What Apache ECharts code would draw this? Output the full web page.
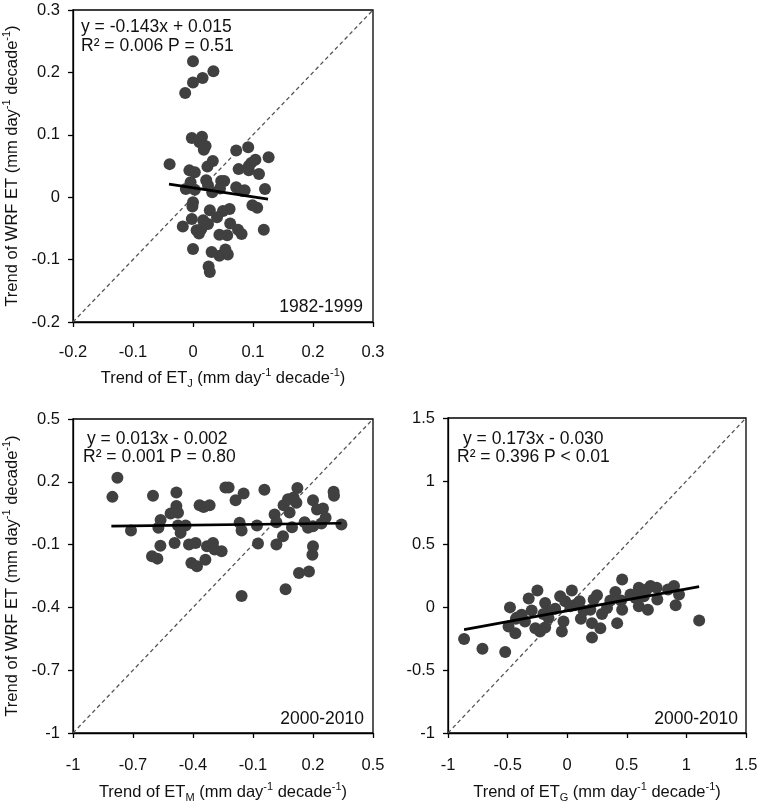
<!DOCTYPE html>
<html>
<head>
<meta charset="utf-8">
<script src="https://cdn.jsdelivr.net/npm/echarts@6/dist/echarts.min.js"></script>
<style>html,body{margin:0;padding:0;background:#fff}#c{width:763px;height:805px}</style>
</head>
<body>
<div id="c"></div>
<script>
// ---------- Panel 1: 1982-1999, ET_J vs WRF ET ----------
const p1X = [0.000,0.034,0.016,0.000,-0.013,-0.002,0.015,0.011,0.021,0.018,0.072,0.092,0.126,-0.039,0.033,0.024,0.097,0.104,0.093,0.076,0.093,0.110,-0.006,0.003,-0.004,0.022,0.047,0.052,-0.012,0.003,0.025,0.032,0.072,0.083,0.120,0.000,-0.001,0.099,0.107,0.028,0.050,0.061,-0.002,0.017,0.040,-0.017,0.006,0.014,0.025,0.062,0.075,0.081,0.118,0.044,0.057,0.000,0.031,0.044,0.054,0.058,0.026,0.028,0.010,0.045,0.086];
const p1Y = [0.218,0.202,0.191,0.184,0.167,0.095,0.097,0.088,0.082,0.076,0.075,0.080,0.064,0.053,0.058,0.049,0.055,0.060,0.050,0.045,0.043,0.037,0.043,0.040,0.024,0.027,0.026,0.026,0.013,0.012,0.019,0.008,0.016,0.010,0.013,-0.008,-0.015,-0.013,-0.017,-0.021,-0.022,-0.019,-0.035,-0.037,-0.032,-0.047,-0.053,-0.051,-0.043,-0.042,-0.052,-0.059,-0.052,-0.060,-0.061,-0.083,-0.088,-0.094,-0.084,-0.092,-0.111,-0.120,-0.058,0.014,0.011];
const p1FitX = [-0.040, 0.125];
const p1FitY = [0.021, -0.003];
const p1Range = [-0.2, 0.3];
const p1XTicks = [-0.2,-0.1,0,0.1,0.2,0.3];
const p1YTicks = [-0.2,-0.1,0,0.1,0.2,0.3];

// ---------- Panel 2: 2000-2010, ET_M vs WRF ET ----------
const p2X = [-0.778,-0.803,-0.600,-0.483,-0.710,-0.562,-0.573,-0.563,-0.605,-0.578,-0.512,-0.483,-0.475,-0.475,-0.437,-0.462,-0.492,-0.420,-0.387,-0.408,-0.380,-0.338,-0.367,-0.347,-0.317,-0.330,-0.300,-0.292,-0.257,-0.238,-0.222,-0.187,-0.147,-0.167,-0.157,-0.043,-0.080,-0.075,-0.157,0.008,0.017,0.017,0.050,0.053,0.075,0.083,0.095,0.103,0.122,0.117,0.063,0.130,0.180,0.158,0.175,0.200,0.200,0.200,0.197,0.220,0.250,0.263,0.242,0.303,0.305,0.342];
const p2Y = [0.219,0.128,0.133,0.149,-0.033,0.017,-0.020,-0.105,-0.156,-0.167,0.049,0.084,0.052,-0.009,-0.009,-0.044,-0.092,-0.100,-0.092,-0.188,-0.204,-0.172,0.088,0.080,0.088,-0.108,-0.092,-0.124,-0.132,0.173,0.173,0.112,0.144,0.004,-0.033,0.162,-0.009,-0.095,-0.345,0.044,0.007,-0.100,-0.060,0.088,0.117,0.053,-0.017,0.125,0.170,0.100,-0.313,-0.236,-0.228,0.007,-0.020,-0.012,0.112,-0.108,-0.148,0.068,0.072,0.028,0.001,0.152,0.133,-0.004];
const p2FitX = [-0.808, 0.342];
const p2FitY = [-0.012, 0.002];
const p2Range = [-1, 0.5];
const p2XTicks = [-1,-0.7,-0.4,-0.1,0.2,0.5];
const p2YTicks = [-1,-0.7,-0.4,-0.1,0.2,0.5];

// ---------- Panel 3: 2000-2010, ET_G vs WRF ET ----------
const p3X = [-0.865,-0.711,-0.520,-0.480,-0.492,-0.435,-0.430,-0.382,-0.354,-0.323,-0.298,-0.250,-0.267,-0.228,-0.185,-0.185,-0.200,-0.157,-0.101,-0.059,-0.031,-0.045,-0.017,0.039,0.059,0.025,0.115,0.194,0.208,0.208,0.222,0.250,0.278,0.292,0.334,0.404,0.461,0.419,0.452,0.461,0.531,0.573,0.601,0.601,0.643,0.666,0.677,0.699,0.750,0.756,0.846,0.896,0.910,0.938,1.107,-0.420,0.104,0.138,0.362,-0.157];
const p3Y = [-0.254,-0.332,-0.358,-0.003,-0.155,-0.209,-0.094,-0.061,-0.115,0.067,-0.027,0.131,-0.168,-0.195,-0.163,0.032,-0.056,-0.035,-0.013,0.086,-0.115,-0.195,0.045,0.131,0.013,0.005,-0.094,-0.021,-0.128,-0.243,0.059,0.094,-0.168,-0.056,-0.008,0.120,0.219,-0.128,0.051,-0.021,0.099,0.072,0.152,0.005,0.086,0.139,-0.021,0.166,0.152,0.059,0.139,0.166,0.013,0.099,-0.107,-0.083,0.045,-0.029,0.051,-0.088];
const p3FitX = [-0.865, 1.107];
const p3FitY = [-0.180, 0.162];
const p3Range = [-1, 1.5];
const p3XTicks = [-1,-0.5,0,0.5,1,1.5];
const p3YTicks = [-1,-0.5,0,0.5,1,1.5];

const FONT = 'Liberation Sans, Arial, sans-serif';
const INK = '#111';
const DOT = '#404040';

function pairs(xs, ys) { return xs.map((x, i) => [x, ys[i]]); }

const nameRich = {
  a: { fontSize: 16.5, fontFamily: FONT, color: INK, lineHeight: 22, verticalAlign: 'middle' },
  sup: { fontSize: 11, fontFamily: FONT, color: INK, lineHeight: 12, verticalAlign: 'top' },
  sub: { fontSize: 11, fontFamily: FONT, color: INK, lineHeight: 13, verticalAlign: 'bottom' }
};
function etName(sub) {
  return '{a|Trend of ET}{sub|' + sub + '}{a| (mm day}{sup|-1}{a| decade}{sup|-1}{a|)}';
}
const yName = '{a|Trend of WRF ET (mm day}{sup|-1}{a| decade}{sup|-1}{a|)}';

function xAxisDef(gi, range, ticks, sub, margin, gap) {
  return {
    gridIndex: gi, type: 'value', min: range[0], max: range[1],
    axisLine: { show: true, onZero: false, lineStyle: { color: '#000', width: 1.3 } },
    axisTick: { show: true, length: 5, customValues: ticks, lineStyle: { color: '#000', width: 1.3 } },
    axisLabel: { customValues: ticks, margin: margin, fontSize: 16.5, fontFamily: FONT, color: INK, formatter: v => String(v) },
    splitLine: { show: false },
    name: etName(sub), nameLocation: 'middle', nameGap: gap,
    nameTextStyle: { rich: nameRich }
  };
}
function yAxisDef(gi, range, ticks, withName) {
  const ax = {
    gridIndex: gi, type: 'value', min: range[0], max: range[1],
    axisLine: { show: true, onZero: false, lineStyle: { color: '#000', width: 1.3 } },
    axisTick: { show: true, length: 5, customValues: ticks, lineStyle: { color: '#000', width: 1.3 } },
    axisLabel: { customValues: ticks, margin: 13, fontSize: 16.5, fontFamily: FONT, color: INK, formatter: v => String(v) },
    splitLine: { show: false }
  };
  if (withName) {
    ax.name = yName; ax.nameLocation = 'middle'; ax.nameGap = 50;
    ax.nameTextStyle = { rich: nameRich };
  }
  return ax;
}
function panelSeries(gi, xs, ys, fx, fy, range) {
  return [
    { type: 'line', xAxisIndex: gi, yAxisIndex: gi, data: [[range[0], range[0]], [range[1], range[1]]],
      symbol: 'none', silent: true, z: 1,
      lineStyle: { color: '#555', width: 1.3, type: [4, 3] } },
    { type: 'scatter', xAxisIndex: gi, yAxisIndex: gi, data: pairs(xs, ys),
      symbol: 'circle', symbolSize: 12, z: 2, itemStyle: { color: DOT, opacity: 1 } },
    { type: 'line', xAxisIndex: gi, yAxisIndex: gi, data: pairs(fx, fy),
      symbol: 'none', silent: true, z: 3,
      lineStyle: { color: '#000', width: 2.7 } }
  ];
}
function txt(left, top, text, alignRight) {
  const el = { type: 'text', top: top, z: 10,
    style: { text: text, fontSize: 17.5, fontFamily: FONT, fill: INK } };
  if (alignRight) el.right = left; else el.left = left;
  return el;
}

const chart = echarts.init(document.getElementById('c'), null, { renderer: 'canvas' });
chart.setOption({
  animation: false,
  backgroundColor: '#fff',
  grid: [
    { left: 73, top: 10, width: 300, height: 312, show: true, borderColor: '#000', borderWidth: 1.3, backgroundColor: 'transparent' },
    { left: 73, top: 419, width: 300, height: 314, show: true, borderColor: '#000', borderWidth: 1.3, backgroundColor: 'transparent' },
    { left: 448, top: 418, width: 298, height: 315, show: true, borderColor: '#000', borderWidth: 1.3, backgroundColor: 'transparent' }
  ],
  xAxis: [
    xAxisDef(0, p1Range, p1XTicks, 'J', 22, 45),
    xAxisDef(1, p2Range, p2XTicks, 'M', 24, 48),
    xAxisDef(2, p3Range, p3XTicks, 'G', 24, 48)
  ],
  yAxis: [
    yAxisDef(0, p1Range, p1YTicks, true),
    yAxisDef(1, p2Range, p2YTicks, true),
    yAxisDef(2, p3Range, p3YTicks, false)
  ],
  series: [].concat(
    panelSeries(0, p1X, p1Y, p1FitX, p1FitY, p1Range),
    panelSeries(1, p2X, p2Y, p2FitX, p2FitY, p2Range),
    panelSeries(2, p3X, p3Y, p3FitX, p3FitY, p3Range)
  ),
  graphic: [
    txt(81, 18.5, 'y = -0.143x + 0.015'),
    txt(81, 37.5, 'R² = 0.006 P = 0.51'),
    txt(400, 298.5, '1982-1999', true),
    txt(87, 430, 'y = 0.013x - 0.002'),
    txt(83, 448, 'R² = 0.001 P = 0.80'),
    txt(399, 710, '2000-2010', true),
    txt(463, 430, 'y = 0.173x - 0.030'),
    txt(457, 448, 'R² = 0.396 P < 0.01'),
    txt(25, 710, '2000-2010', true)
  ]
});
</script>
</body>
</html>
